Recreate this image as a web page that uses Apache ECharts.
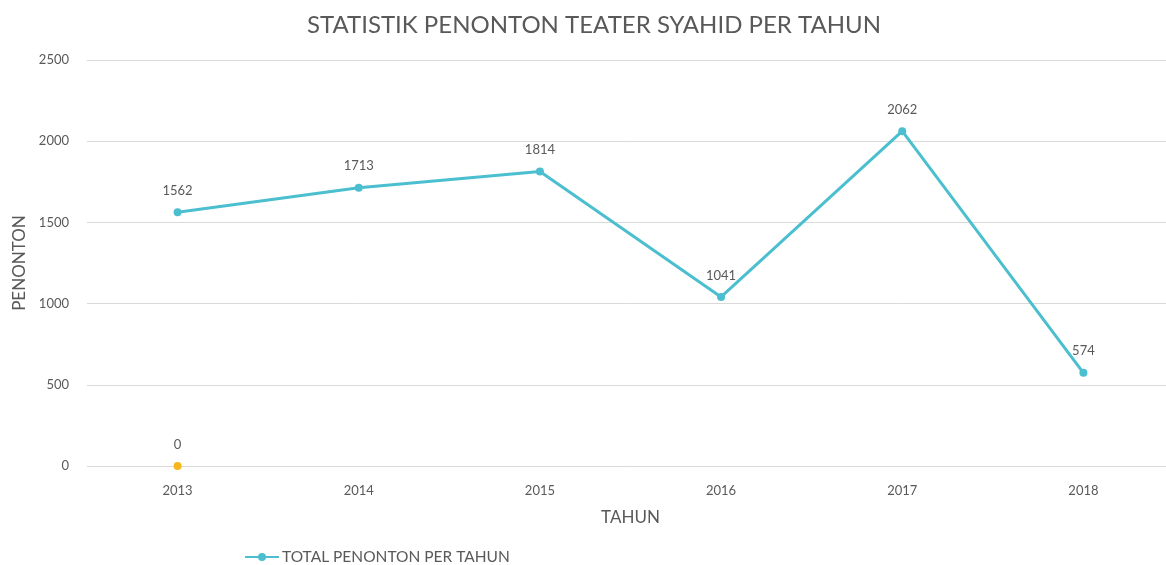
<!DOCTYPE html>
<html>
<head>
<meta charset="utf-8">
<script src="https://cdn.jsdelivr.net/npm/echarts@6/dist/echarts.min.js"></script>
<style>
  html, body { margin: 0; padding: 0; background: #fff; overflow: hidden; }
  #chart { width: 1175px; height: 565px; }
</style>
</head>
<body>
<div id="chart"></div>
<script>
const years = ['2013', '2014', '2015', '2016', '2017', '2018'];
const totalPenonton = [1562, 1713, 1814, 1041, 2062, 574];
const tahunSeries = [0];  // titik oranye di 2013
const yTicks = [0, 500, 1000, 1500, 2000, 2500];

const textColor = '#595959';
const font = 'Lato, "Open Sans", sans-serif';

// chart sedikit lebih lebar dari jendela, sisi kanan terpotong seperti aslinya
const chart = echarts.init(document.getElementById('chart'));
chart.setOption({
  animation: false,
  textStyle: { fontFamily: font },
  title: {
    text: 'STATISTIK PENONTON TEATER SYAHID PER TAHUN',
    left: 589,
    textAlign: 'center',
    top: 8,
    textStyle: { color: textColor, fontSize: 24, fontWeight: 'normal', fontFamily: font }
  },
  legend: {
    data: ['TOTAL PENONTON PER TAHUN'],
    left: 244,
    top: 549,
    padding: 0,
    itemWidth: 34,
    itemHeight: 10,
    itemGap: 4,
    textStyle: { color: textColor, fontSize: 15.5, padding: [0, 0, 0, -2] }
  },
  grid: { left: 87, top: 60, right: 1, height: 406 },
  xAxis: {
    type: 'category',
    data: years,
    name: 'TAHUN',
    nameLocation: 'middle',
    nameGap: 43,
    nameTextStyle: { color: textColor, fontSize: 17 },
    axisLine: { show: false },
    axisTick: { show: false },
    axisLabel: { color: textColor, fontSize: 13, margin: 18 }
  },
  yAxis: {
    type: 'value',
    min: yTicks[0],
    max: yTicks[yTicks.length - 1],
    interval: 500,
    name: 'PENONTON',
    nameLocation: 'middle',
    nameGap: 58,
    nameTextStyle: { color: textColor, fontSize: 17 },
    axisLine: { show: false },
    axisTick: { show: false },
    axisLabel: { color: textColor, fontSize: 13, margin: 18, formatter: v => String(v) },
    splitLine: { lineStyle: { color: '#d9d9d9', width: 1 } }
  },
  series: [{
    name: 'TOTAL PENONTON PER TAHUN',
    type: 'line',
    data: totalPenonton,
    symbol: 'circle',
    symbolSize: 8,
    lineStyle: { color: '#4BBFD0', width: 3 },
    itemStyle: { color: '#4BBFD0' },
    label: { show: true, position: 'top', distance: 11, color: textColor, fontSize: 13 }
  }, {
    name: 'TAHUN',
    type: 'line',
    data: tahunSeries,
    symbol: 'circle',
    symbolSize: 8,
    itemStyle: { color: '#F5B81C' },
    label: { show: true, position: 'top', distance: 11, color: textColor, fontSize: 13 }
  }]
});
</script>
</body>
</html>
